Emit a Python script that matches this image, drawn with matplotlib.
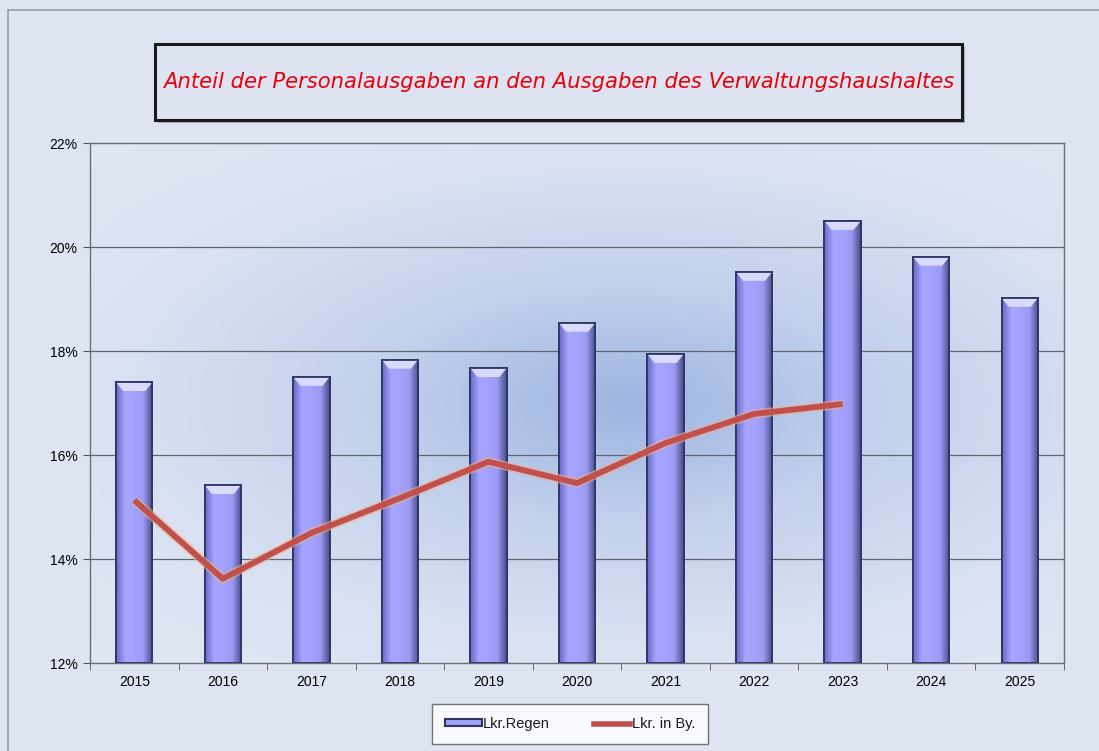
import matplotlib
matplotlib.use("Agg")
import matplotlib.pyplot as plt
import numpy as np
from matplotlib.patches import Rectangle, Polygon, Patch
from matplotlib.lines import Line2D
from matplotlib.colors import LinearSegmentedColormap
import matplotlib.ticker as mticker

# data
years = ["2015", "2016", "2017", "2018", "2019", "2020", "2021", "2022", "2023", "2024", "2025"]
regen = [17.40, 15.42, 17.50, 17.83, 17.67, 18.54, 17.94, 19.52, 20.50, 19.81, 19.02]
bayern = [15.13, 13.62, 14.50, 15.17, 15.87, 15.46, 16.23, 16.79, 16.98]

title = "Anteil der Personalausgaben an den Ausgaben des Verwaltungshaushaltes"
labels = ["Lkr.Regen", "Lkr. in By."]

plt.rcParams['font.family'] = ['Liberation Sans', 'DejaVu Sans']

fig = plt.figure(figsize=(10.99, 7.51), dpi=100)
fig.patch.set_facecolor("#dfe4f2")

# outer frame line (top/left)
fig.add_artist(Line2D([8/1099, 8/1099], [0, 1 - 10/751], transform=fig.transFigure,
                      color="#9a9ea8", lw=1.2))
fig.add_artist(Line2D([8/1099, 1], [1 - 10/751, 1 - 10/751], transform=fig.transFigure,
                      color="#9a9ea8", lw=1.2))

ax = fig.add_axes([90/1099, 88/751, 974/1099, 520/751])
ax.set_xlim(-0.5, len(years) - 0.5)
ax.set_ylim(12, 22)

# radial gradient background of the plot area
gx, gy = np.meshgrid(np.linspace(0, 1, 400), np.linspace(0, 1, 300))
r = np.sqrt(((gx - 0.55) / 0.8) ** 2 + ((gy - 0.5) / 0.7) ** 2)
r = np.clip(r, 0, 1)
bg_cmap = LinearSegmentedColormap.from_list("bg", ["#9db5e2", "#c3d1ec", "#dae2f2", "#e0e6f3"])
ax.imshow(r, cmap=bg_cmap, extent=[0, 1, 0, 1], transform=ax.transAxes,
          aspect="auto", zorder=0, origin="lower", vmin=0, vmax=1)

# grid lines
for v in range(14, 22, 2):
    ax.axhline(v, color="#5f6670", lw=0.9, zorder=1)

# bars with a bevelled look
x = np.arange(len(years))
w = 0.41
bar_cmap = LinearSegmentedColormap.from_list(
    "bar", ["#6a6ac8", "#a6a6ff", "#a3a3fd", "#9a9af2", "#4a4a8a"])
grad = np.linspace(0, 1, 64).reshape(1, -1)
for xi, v in zip(x, regen):
    rect = Rectangle((xi - w/2, 12), w, v - 12, facecolor="#a2a2fc",
                     edgecolor="#2c3763", lw=1.3, zorder=3)
    ax.add_patch(rect)
    im = ax.imshow(grad, cmap=bar_cmap, extent=[xi - w/2, xi + w/2, 12, v],
                   aspect="auto", zorder=3.1)
    im.set_clip_path(rect)
    # top bevel
    d = 0.08
    top = Polygon([[xi - w/2, v], [xi + w/2, v], [xi + w/2 - d, v - 0.17],
                   [xi - w/2 + d, v - 0.17]], closed=True,
                  facecolor="#dadaff", edgecolor="none", zorder=3.2)
    ax.add_patch(top)
    ax.add_patch(Rectangle((xi - w/2, 12), w, v - 12, facecolor="none",
                           edgecolor="#2c3763", lw=1.3, zorder=3.3))

# line
ax.plot(x[:len(bayern)], bayern, color="#f0b08a", lw=6.5, alpha=0.6, zorder=4,
        solid_capstyle="butt")
ax.plot(x[:len(bayern)], bayern, color="#c0504d", lw=4.2, zorder=4.1,
        solid_capstyle="butt")

# axes styling
for s in ["left", "right", "top", "bottom"]:
    ax.spines[s].set_color("#6b6f78")
    ax.spines[s].set_linewidth(1.0)
ax.yaxis.set_major_locator(mticker.MultipleLocator(2))
ax.yaxis.set_major_formatter(mticker.FuncFormatter(lambda v, p: "%d%%" % v))
ax.set_xticks(x)
ax.set_xticklabels(years)
ax.set_xticks(np.arange(-0.5, len(years), 1), minor=True)
ax.tick_params(axis="x", which="major", length=0, labelsize=10, pad=9)
ax.tick_params(axis="x", which="minor", length=5, color="#555555", direction="out")
ax.tick_params(axis="y", length=5, color="#555555", labelsize=10, pad=4)

# title box with shadow
x0, y0, bw, bh = 155/1099, 1 - 120/751, 807/1099, 76/751
fig.add_artist(Rectangle((x0 + 3/1099, y0 - 3/751), bw, bh, transform=fig.transFigure,
                         facecolor="#a8b0c4", edgecolor="none", zorder=1))
fig.add_artist(Rectangle((x0, y0), bw, bh, transform=fig.transFigure,
                         facecolor="#dde3f1", edgecolor="#1a1a1a", lw=2.2, zorder=2))
fig.text(x0 + bw/2, y0 + bh/2, title, ha="center", va="center", color="#e8000b",
         fontsize=15.2, style="italic", family="DejaVu Sans", zorder=3)

# legend
handles = [Patch(facecolor="#a2a2fc", edgecolor="#2c3763", lw=1.5),
           Line2D([0], [0], color="#c0504d", lw=4)]
leg = fig.legend(handles, labels, loc="center", ncol=2,
                 bbox_to_anchor=(570/1099, 1 - 724/751), frameon=True, fancybox=False,
                 edgecolor="#555555", facecolor="white", fontsize=10.5,
                 handlelength=2.5, handleheight=0.4, handletextpad=0.1,
                 columnspacing=3.0, borderpad=0.9)
leg.get_frame().set_linewidth(1.0)
for t in leg.get_texts():
    t.set_color("#1a1a1a")

fig.savefig("out.png", dpi=100, facecolor=fig.get_facecolor())
